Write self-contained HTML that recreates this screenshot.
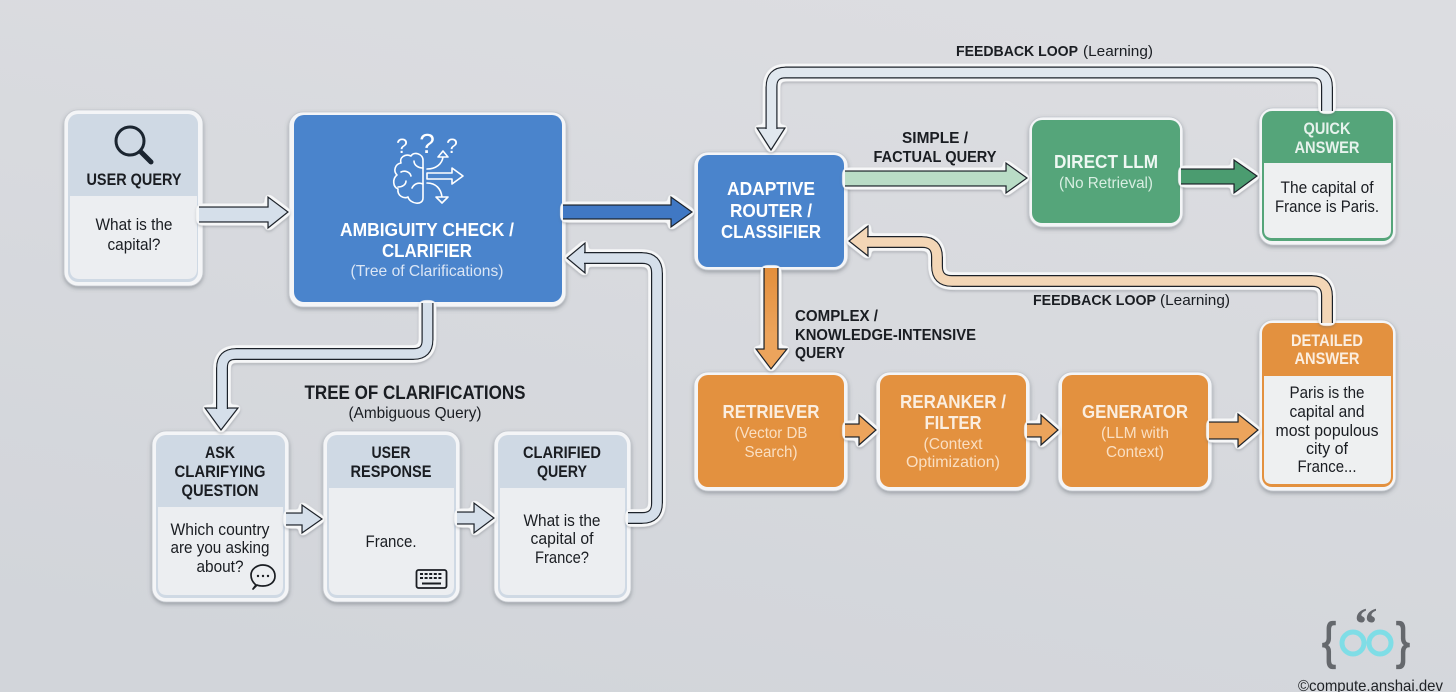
<!DOCTYPE html>
<html><head><meta charset="utf-8"><style>
html,body{margin:0;padding:0;width:1456px;height:692px;overflow:hidden;background:#d8dade}
svg{display:block}
text{font-family:"Liberation Sans",sans-serif;text-anchor:middle}
.b{font-weight:700}
.k{fill:#1a1d22}
.w{fill:#fff}
.o{fill:#f4f5f7;stroke:#c4c8ce;stroke-width:.8}
.pd{fill:none;stroke:#1d232b;stroke-width:12}
.pf{fill:none;stroke-width:9.6}
</style></head><body>
<svg width="1456" height="692" viewBox="0 0 1456 692" xmlns="http://www.w3.org/2000/svg">
<defs>
<linearGradient id="bg" x1="0.7" y1="0" x2="0.3" y2="1"><stop offset="0" stop-color="#dcdde1"/><stop offset="1" stop-color="#d2d5da"/></linearGradient>
<linearGradient id="og" gradientUnits="userSpaceOnUse" x1="0" y1="268" x2="0" y2="335"><stop offset="0" stop-color="#e38f3c"/><stop offset="1" stop-color="#eca45c"/></linearGradient>
<filter id="h" filterUnits="userSpaceOnUse" x="0" y="0" width="1456" height="692">
<feGaussianBlur in="SourceAlpha" stdDeviation="2.3"/>
<feComponentTransfer result="d"><feFuncA type="linear" slope="14" intercept="-1"/></feComponentTransfer>
<feGaussianBlur in="d" stdDeviation="1.2" result="bl"/>
<feOffset in="bl" dy="1.5" result="off"/>
<feFlood flood-color="#5b6068" flood-opacity=".35"/><feComposite in2="off" operator="in" result="sh"/>
<feFlood flood-color="#f6f7f8"/><feComposite in2="d" operator="in" result="wh"/>
<feMerge><feMergeNode in="sh"/><feMergeNode in="wh"/><feMergeNode in="SourceGraphic"/></feMerge>
</filter>
<filter id="s" filterUnits="userSpaceOnUse" x="0" y="0" width="1456" height="692"><feDropShadow dx="0" dy="2" stdDeviation="2" flood-color="#555a62" flood-opacity=".45"/></filter>
</defs>
<rect width="1456" height="692" fill="url(#bg)"/>

<!-- user query card -->
<g>
<rect class="o" filter="url(#s)" x="64" y="110" width="139" height="176" rx="14"/>
<rect x="68" y="114" width="130" height="168" rx="10" fill="#cfd9e4"/>
<path d="M70 196H197V269Q197 279 187 279H80Q70 279 70 269Z" fill="#eceef1"/>
<circle cx="130" cy="141" r="14" fill="none" stroke="#1b2530" stroke-width="3"/>
<line x1="141" y1="152" x2="151" y2="162" stroke="#1b2530" stroke-width="5" stroke-linecap="round"/>
<text class="b k" x="134" y="185" font-size="17" textLength="95" lengthAdjust="spacingAndGlyphs">USER QUERY</text>
<text class="k" x="134" y="230" font-size="17" textLength="77" lengthAdjust="spacingAndGlyphs">What is the</text>
<text class="k" x="134" y="250" font-size="17" textLength="53" lengthAdjust="spacingAndGlyphs">capital?</text>
</g>

<!-- ambiguity -->
<g>
<rect class="o" filter="url(#s)" x="289" y="112" width="277" height="195" rx="14"/>
<rect x="294" y="115" width="268" height="187" rx="10" fill="#4a84cc"/>
<g fill="none" stroke="#fff" stroke-width="1.6" stroke-linejoin="round" stroke-linecap="round">
<path d="M423 160C423 154 414 151 411 156C405 153 399 158 401 163C395 164 393 171 397 175C392 179 393 187 398 189C397 196 404 199 408 197C410 204 423 206 423 198Z"/>
<path d="M423 168C418 168 414 165 414 161M401 172C405 170 410 172 411 176M423 184C418 182 414 184 412 188M398 187C402 187 406 185 406 181"/>
<polygon points="427,173 452,173 452,168 463,176 452,184 452,179 427,179"/>
<path d="M427 169C436 169 442 164 443 157M438 157L443 151L448 157ZM427 183C436 183 441 189 442 197M436 197L442 203L448 197Z"/>
</g>
<text class="w" x="402" y="153" font-size="21">?</text>
<text class="w" x="427" y="153" font-size="28">?</text>
<text class="w" x="452" y="153" font-size="21">?</text>
<text class="b w" x="427" y="236" font-size="18.500" textLength="174" lengthAdjust="spacingAndGlyphs">AMBIGUITY CHECK /</text>
<text class="b w" x="427" y="257" font-size="18.500" textLength="90" lengthAdjust="spacingAndGlyphs">CLARIFIER</text>
<text x="427" y="276" font-size="16" fill="#dbe6f5" textLength="153" lengthAdjust="spacingAndGlyphs">(Tree of Clarifications)</text>
</g>

<!-- tree label -->
<text class="b k" x="415" y="399" font-size="19.500" textLength="221" lengthAdjust="spacingAndGlyphs">TREE OF CLARIFICATIONS</text>
<text class="k" x="415" y="418" font-size="16" textLength="133" lengthAdjust="spacingAndGlyphs">(Ambiguous Query)</text>

<!-- ask -->
<g>
<rect class="o" filter="url(#s)" x="152" y="431" width="137" height="171" rx="14"/>
<rect x="156" y="435" width="129" height="163" rx="10" fill="#cfd9e4"/>
<path d="M158 507H283V586Q283 595 274 595H167Q158 595 158 586Z" fill="#eceef1"/>
<text class="b k" x="220" y="458" font-size="17" textLength="30" lengthAdjust="spacingAndGlyphs">ASK</text>
<text class="b k" x="220" y="477" font-size="17" textLength="91" lengthAdjust="spacingAndGlyphs">CLARIFYING</text>
<text class="b k" x="220" y="496" font-size="17" textLength="77" lengthAdjust="spacingAndGlyphs">QUESTION</text>
<text class="k" x="220" y="535" font-size="17" textLength="99" lengthAdjust="spacingAndGlyphs">Which country</text>
<text class="k" x="220" y="553" font-size="17" textLength="99" lengthAdjust="spacingAndGlyphs">are you asking</text>
<text class="k" x="220" y="572" font-size="17" textLength="47" lengthAdjust="spacingAndGlyphs">about?</text>
<path d="M256 585C251 581 251 576 251 575C251 569 257 565 263 565C270 565 275 570 275 576C275 582 270 586 263 586C261 586 259 586 257 585L253 589Z" fill="none" stroke="#1a1d22" stroke-width="1.7" stroke-linejoin="round"/>
<circle cx="258" cy="576" r="1.2" fill="#1a1d22"/><circle cx="263" cy="576" r="1.2" fill="#1a1d22"/><circle cx="268" cy="576" r="1.2" fill="#1a1d22"/>
</g>

<!-- user response -->
<g>
<rect class="o" filter="url(#s)" x="323" y="431" width="137" height="171" rx="14"/>
<rect x="327" y="435" width="129" height="163" rx="10" fill="#cfd9e4"/>
<path d="M329 488H454V586Q454 595 445 595H338Q329 595 329 586Z" fill="#eceef1"/>
<text class="b k" x="391" y="458" font-size="17" textLength="39" lengthAdjust="spacingAndGlyphs">USER</text>
<text class="b k" x="391" y="477" font-size="17" textLength="81" lengthAdjust="spacingAndGlyphs">RESPONSE</text>
<text class="k" x="391" y="547" font-size="17" textLength="51" lengthAdjust="spacingAndGlyphs">France.</text>
<rect x="416.500" y="570" width="30" height="18" rx="2" fill="none" stroke="#1a1d22" stroke-width="1.8"/>
<path d="M420 574H443M420 578H443" stroke="#1a1d22" stroke-width="2" stroke-dasharray="3 1.6"/>
<path d="M422 583.500H441" stroke="#1a1d22" stroke-width="2"/>
</g>

<!-- clarified -->
<g>
<rect class="o" filter="url(#s)" x="494" y="431" width="137" height="171" rx="14"/>
<rect x="498" y="435" width="129" height="163" rx="10" fill="#cfd9e4"/>
<path d="M500 488H625V586Q625 595 616 595H509Q500 595 500 586Z" fill="#eceef1"/>
<text class="b k" x="562" y="458" font-size="17" textLength="78" lengthAdjust="spacingAndGlyphs">CLARIFIED</text>
<text class="b k" x="562" y="477" font-size="17" textLength="50" lengthAdjust="spacingAndGlyphs">QUERY</text>
<text class="k" x="562" y="526" font-size="17" textLength="77" lengthAdjust="spacingAndGlyphs">What is the</text>
<text class="k" x="562" y="544" font-size="17" textLength="63" lengthAdjust="spacingAndGlyphs">capital of</text>
<text class="k" x="562" y="563" font-size="17" textLength="54" lengthAdjust="spacingAndGlyphs">France?</text>
</g>

<!-- router -->
<g>
<rect class="o" filter="url(#s)" x="694" y="152" width="154" height="118" rx="14"/>
<rect x="698" y="155" width="146" height="112" rx="10" fill="#4a84cc"/>
<text class="b w" x="771" y="195" font-size="18.500" textLength="88" lengthAdjust="spacingAndGlyphs">ADAPTIVE</text>
<text class="b w" x="771" y="217" font-size="18.500" textLength="82" lengthAdjust="spacingAndGlyphs">ROUTER /</text>
<text class="b w" x="771" y="238" font-size="18.500" textLength="100" lengthAdjust="spacingAndGlyphs">CLASSIFIER</text>
</g>

<!-- direct -->
<g>
<rect class="o" filter="url(#s)" x="1029" y="117" width="154" height="110" rx="14"/>
<rect x="1032" y="120" width="148" height="103" rx="10" fill="#55a57a"/>
<text class="b" fill="#eef7f2" x="1106" y="168" font-size="18.500" textLength="104" lengthAdjust="spacingAndGlyphs">DIRECT LLM</text>
<text x="1106" y="188" font-size="16" fill="#d8eee2" textLength="94" lengthAdjust="spacingAndGlyphs">(No Retrieval)</text>
</g>

<!-- quick -->
<g>
<rect class="o" filter="url(#s)" x="1259" y="108" width="137" height="137" rx="14"/>
<rect x="1262" y="111" width="131" height="130" rx="10" fill="#55a57a"/>
<path d="M1264 163H1391V230Q1391 238 1383 238H1272Q1264 238 1264 230Z" fill="#eef0f1"/>
<text class="b" fill="#e6f2ec" x="1327" y="134" font-size="17" textLength="47" lengthAdjust="spacingAndGlyphs">QUICK</text>
<text class="b" fill="#e6f2ec" x="1327" y="153" font-size="17" textLength="65" lengthAdjust="spacingAndGlyphs">ANSWER</text>
<text class="k" x="1327" y="193" font-size="17" textLength="93" lengthAdjust="spacingAndGlyphs">The capital of</text>
<text class="k" x="1327" y="212" font-size="17" textLength="104" lengthAdjust="spacingAndGlyphs">France is Paris.</text>
</g>

<!-- labels -->
<text class="b k" x="1017" y="56" font-size="15" textLength="122" lengthAdjust="spacingAndGlyphs">FEEDBACK LOOP</text>
<text class="k" x="1118" y="56" font-size="15" textLength="70" lengthAdjust="spacingAndGlyphs">(Learning)</text>
<text class="b k" x="935" y="143" font-size="16" textLength="66" lengthAdjust="spacingAndGlyphs">SIMPLE /</text>
<text class="b k" x="935" y="162" font-size="16" textLength="123" lengthAdjust="spacingAndGlyphs">FACTUAL QUERY</text>
<text class="b k" x="1094.500" y="305" font-size="15" textLength="123" lengthAdjust="spacingAndGlyphs">FEEDBACK LOOP</text>
<text class="k" x="1195" y="305" font-size="15" textLength="70" lengthAdjust="spacingAndGlyphs">(Learning)</text>
<g>
<text class="b k" x="836.500" y="321" font-size="15.500" textLength="83" lengthAdjust="spacingAndGlyphs">COMPLEX /</text>
<text class="b k" x="885.500" y="340" font-size="15.500" textLength="181" lengthAdjust="spacingAndGlyphs">KNOWLEDGE-INTENSIVE</text>
<text class="b k" x="820" y="358" font-size="15.500" textLength="50" lengthAdjust="spacingAndGlyphs">QUERY</text>
</g>

<!-- retriever -->
<g>
<rect class="o" filter="url(#s)" x="694" y="372" width="154" height="119" rx="14"/>
<rect x="698" y="375" width="146" height="112" rx="10" fill="#e3913f"/>
<text class="b" fill="#fbeee0" x="771" y="418" font-size="18.500" textLength="97" lengthAdjust="spacingAndGlyphs">RETRIEVER</text>
<text x="771" y="438" font-size="16" fill="#fadfc2" textLength="73" lengthAdjust="spacingAndGlyphs">(Vector DB</text>
<text x="771" y="457" font-size="16" fill="#fadfc2" textLength="53" lengthAdjust="spacingAndGlyphs">Search)</text>
</g>
<!-- reranker -->
<g>
<rect class="o" filter="url(#s)" x="876" y="372" width="154" height="119" rx="14"/>
<rect x="880" y="375" width="146" height="112" rx="10" fill="#e3913f"/>
<text class="b" fill="#fbeee0" x="953" y="408" font-size="18.500" textLength="106" lengthAdjust="spacingAndGlyphs">RERANKER /</text>
<text class="b" fill="#fbeee0" x="953" y="429" font-size="18.500" textLength="57" lengthAdjust="spacingAndGlyphs">FILTER</text>
<text x="953" y="449" font-size="16" fill="#fadfc2" textLength="59" lengthAdjust="spacingAndGlyphs">(Context</text>
<text x="953" y="467" font-size="16" fill="#fadfc2" textLength="94" lengthAdjust="spacingAndGlyphs">Optimization)</text>
</g>
<!-- generator -->
<g>
<rect class="o" filter="url(#s)" x="1058" y="372" width="154" height="119" rx="14"/>
<rect x="1062" y="375" width="146" height="112" rx="10" fill="#e3913f"/>
<text class="b" fill="#fbeee0" x="1135" y="418" font-size="18.500" textLength="106" lengthAdjust="spacingAndGlyphs">GENERATOR</text>
<text x="1135" y="438" font-size="16" fill="#fadfc2" textLength="68" lengthAdjust="spacingAndGlyphs">(LLM with</text>
<text x="1135" y="457" font-size="16" fill="#fadfc2" textLength="58" lengthAdjust="spacingAndGlyphs">Context)</text>
</g>
<!-- detailed -->
<g>
<rect class="o" filter="url(#s)" x="1259" y="320" width="137" height="171" rx="14"/>
<rect x="1262" y="323" width="131" height="164" rx="10" fill="#e3913f"/>
<path d="M1264 376H1391V476Q1391 484 1383 484H1272Q1264 484 1264 476Z" fill="#eef0f1"/>
<text class="b" fill="#fbeee0" x="1327" y="346" font-size="17" textLength="72" lengthAdjust="spacingAndGlyphs">DETAILED</text>
<text class="b" fill="#fbeee0" x="1327" y="364" font-size="17" textLength="65" lengthAdjust="spacingAndGlyphs">ANSWER</text>
<text class="k" x="1327" y="398" font-size="17" textLength="75" lengthAdjust="spacingAndGlyphs">Paris is the</text>
<text class="k" x="1327" y="417" font-size="17" textLength="75" lengthAdjust="spacingAndGlyphs">capital and</text>
<text class="k" x="1327" y="436" font-size="17" textLength="103" lengthAdjust="spacingAndGlyphs">most populous</text>
<text class="k" x="1327" y="454" font-size="17" textLength="42" lengthAdjust="spacingAndGlyphs">city of</text>
<text class="k" x="1327" y="472" font-size="17" textLength="59" lengthAdjust="spacingAndGlyphs">France...</text>
</g>

<!-- arrows (open paths so the tail edge has no line) -->
<g stroke="#1d232b" stroke-width="1.3" stroke-linejoin="miter">
<g filter="url(#h)"><path fill="#d5dfea" d="M199 207H268V197L288 212L268 228V222H199"/></g>
<g filter="url(#h)"><path fill="#3f78c4" d="M563 205H671V197L692 212L671 227V219H563"/></g>
<g filter="url(#h)"><path fill="#d5dfea" d="M286 513H302V505L322 519L302 533V525H286"/></g>
<g filter="url(#h)"><path fill="#d5dfea" d="M457 512H474V503L494 518L474 533V524H457"/></g>
<g filter="url(#h)"><path fill="#b9dcc6" d="M845 171H1006V163L1027 178L1006 193V186H845"/></g>
<g filter="url(#h)"><path fill="#4c9c70" d="M1181 169H1234V160L1257 176L1234 193V184H1181"/></g>
<g filter="url(#h)"><path fill="url(#og)" d="M764 268V349H756L771 369L787 349H778V268"/></g>
<g filter="url(#h)"><path fill="#eca45c" d="M845 424H859V415L876 430L859 445V437H845"/></g>
<g filter="url(#h)"><path fill="#eca45c" d="M1027 424H1041V415L1058 430L1041 445V437H1027"/></g>
<g filter="url(#h)"><path fill="#eca45c" d="M1209 422H1238V414L1258 430L1238 447V439H1209"/></g>

<!-- ambig -> ask -->
<g filter="url(#h)">
<polygon fill="#d5dfea" points="205,408 238,408 221,430"/>
<path class="pd" d="M427.500 303V340Q427.500 354 413.500 354H236Q222 354 222 368V409"/>
<path class="pf" stroke="#d5dfea" d="M427.500 303V340Q427.500 354 413.500 354H236Q222 354 222 368V410"/>
</g>
<!-- clarified -> ambig -->
<g filter="url(#h)">
<polygon fill="#d5dfea" points="585,243 585,273 567,258"/>
<path class="pd" d="M628 518H642Q657 518 657 503V273Q657 258 642 258H584"/>
<path class="pf" stroke="#d5dfea" d="M628 518H642Q657 518 657 503V273Q657 258 642 258H583"/>
</g>
<!-- top feedback -->
<g filter="url(#h)">
<polygon fill="#e0e7ee" points="757,128 785,128 771,150"/>
<path class="pd" d="M1327 111V87Q1327 72.500 1313 72.500H785.500Q771.500 72.500 771.500 87V129"/>
<path class="pf" stroke="#e0e7ee" d="M1327 111V87Q1327 72.500 1313 72.500H785.500Q771.500 72.500 771.500 87V130"/>
</g>
<!-- orange feedback -->
<g filter="url(#h)">
<polygon fill="#f3d6b6" points="868,226 868,256 849,241"/>
<path class="pd" d="M1327 323V296Q1327 281 1312 281H952Q937 281 937 266V257Q937 242 922 242H867"/>
<path class="pf" stroke="#f3d6b6" d="M1327 323V296Q1327 281 1312 281H952Q937 281 937 266V257Q937 242 922 242H866"/>
</g>
</g>

<!-- logo -->
<text x="1329" y="658" font-size="50" fill="#65686d" stroke="#65686d" stroke-width="1.2" textLength="14" lengthAdjust="spacingAndGlyphs">{</text>
<text x="1403" y="658" font-size="50" fill="#65686d" stroke="#65686d" stroke-width="1.2" textLength="14" lengthAdjust="spacingAndGlyphs">}</text>
<text class="b" x="1366" y="639" font-size="46" fill="#65686d" style="font-family:'Liberation Serif',serif">“</text>
<circle cx="1353" cy="643" r="11" fill="none" stroke="#7fdde6" stroke-width="5"/>
<circle cx="1380" cy="643" r="11" fill="none" stroke="#7fdde6" stroke-width="5"/>
<text x="1370.500" y="691" font-size="16" fill="#1f2226" textLength="145" lengthAdjust="spacingAndGlyphs">©compute.anshai.dev</text>
</svg>
</body></html>
